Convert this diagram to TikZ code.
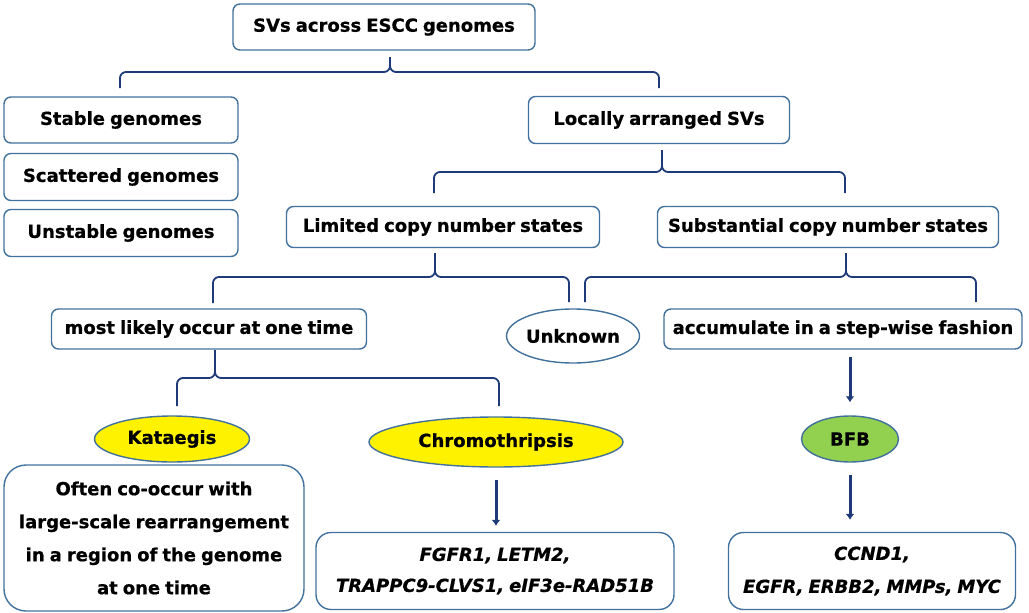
\documentclass[tikz,border=0pt]{standalone}
\usepackage{fontspec}
\setmainfont{DejaVu Sans}[WordSpace=0.8,BoldFeatures={FakeBold=0.6},BoldItalicFeatures={FakeBold=0.6}]
\usepackage{xcolor}
\usepackage{tikz}
\usetikzlibrary{shapes.geometric,arrows.meta,calc}
\definecolor{boxblue}{HTML}{41719C}
\definecolor{navy}{HTML}{1F3A78}
\definecolor{bfbgreen}{HTML}{92D050}

\begin{document}
\begin{tikzpicture}[x=1pt,y=-1pt,>=Latex,
  box/.style={draw=boxblue,line width=1.4pt,rounded corners=7pt,inner sep=0pt,align=center},
  oval/.style={ellipse,draw=boxblue,line width=1.4pt,inner sep=0pt},
  bracket/.style={navy,line width=1.8pt,rounded corners=6pt},
  arr/.style={-{Latex[length=6pt,width=9pt]},navy,line width=3pt},
  font=\fontsize{18}{33}\selectfont\bfseries]
  \useasboundingbox (0,0) rectangle (1029,613);
  % livello 1
  \node[box,minimum width=302pt,minimum height=46pt] (svs) at (384,27) {SVs across ESCC genomes};
  \node[box,minimum width=234pt,minimum height=46pt] (stable) at (121,120) {Stable genomes};
  \node[box,minimum width=234pt,minimum height=47pt] (scattered) at (121,177) {Scattered genomes};
  \node[box,minimum width=234pt,minimum height=47pt] (unstable) at (121,233) {Unstable genomes};
  \node[box,minimum width=261pt,minimum height=47pt] (locally) at (659,120) {Locally arranged SVs};
  % stati di copia
  \node[box,minimum width=313pt,minimum height=41pt] (limited) at (443,227) {Limited copy number states};
  \node[box,minimum width=341pt,minimum height=41pt] (subst) at (828,227) {Substantial copy number states};
  \node[box,minimum width=315pt,minimum height=40pt] (likely) at (209,329) {most likely occur at one time};
  \node[oval,minimum width=131pt,minimum height=54pt] (unknown) at (573,336) {Unknown};
  \node[box,minimum width=358pt,minimum height=40pt] (accum) at (843,329) {accumulate in a step-wise fashion};
  % meccanismi
  \node[oval,fill=yellow,minimum width=155pt,minimum height=46pt] (kat) at (172,439) {Kataegis};
  \node[oval,fill=yellow,minimum width=254pt,minimum height=50pt] (chromo) at (496,442) {Chromothripsis};
  \node[oval,fill=bfbgreen,minimum width=97pt,minimum height=46pt] (bfb) at (850,439) {BFB};
  % esiti
  \node[box,rounded corners=22pt,minimum width=300pt,minimum height=146pt] (often) at (154,538)
    {Often co-occur with\\large-scale rearrangement\\in a region of the genome\\at one time};
  \node[box,rounded corners=15pt,minimum width=358pt,minimum height=77pt,font=\fontsize{18}{31}\selectfont\bfseries\itshape] (fgfr) at (495,571)
    {FGFR1, LETM2,\\TRAPPC9-CLVS1, eIF3e-RAD51B};
  \node[box,rounded corners=15pt,minimum width=287pt,minimum height=77pt,font=\fontsize{18}{33}\selectfont\bfseries\itshape] (ccnd) at (872,571)
    {CCND1,\\EGFR, ERBB2, MMPs, MYC};
  % graffe
  \coordinate (b1l) at (120,88);  \coordinate (b1r) at (659,88);  \coordinate (b1m) at (390,72);  \coordinate (b1t) at (390,57);
  \coordinate (b2l) at (434,193); \coordinate (b2r) at (845,193); \coordinate (b2m) at (662,172); \coordinate (b2t) at (662,150);
  \coordinate (b3l) at (213,303); \coordinate (b3r) at (569,302); \coordinate (b3m) at (435,277); \coordinate (b3t) at (435,253);
  \coordinate (b4l) at (585,302); \coordinate (b4r) at (976,302); \coordinate (b4m) at (846,277); \coordinate (b4t) at (846,253);
  \coordinate (b5l) at (177,406); \coordinate (b5r) at (499,406); \coordinate (b5m) at (215,378); \coordinate (b5t) at (215,350);
  \foreach \b in {b1,b2,b3,b4,b5}
    \draw[bracket] (\b l) |- (\b m) -- (\b t) (\b r) |- (\b m) -- (\b t);
  % frecce
  \draw[arr,shorten <=12pt,shorten >=6pt] (chromo.south) -- (chromo.south |- fgfr.north);
  \draw[arr,shorten <=7pt,shorten >=13pt] (bfb.north |- accum.south) -- (bfb.north);
  \draw[arr,shorten <=12pt,shorten >=12pt] (bfb.south) -- (bfb.south |- ccnd.north);
\end{tikzpicture}
\end{document}
